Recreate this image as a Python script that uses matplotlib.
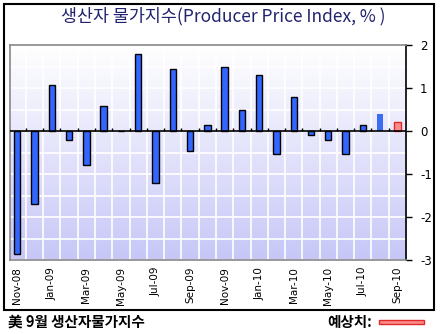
import matplotlib
matplotlib.use("Agg")
import matplotlib.pyplot as plt
import numpy as np
from matplotlib.patches import Rectangle

plt.rcParams['font.family'] = ['Noto Sans CJK KR', 'DejaVu Sans']

months = ["Nov-08", "Dec-08", "Jan-09", "Feb-09", "Mar-09", "Apr-09", "May-09", "Jun-09",
          "Jul-09", "Aug-09", "Sep-09", "Oct-09", "Nov-09", "Dec-09", "Jan-10", "Feb-10",
          "Mar-10", "Apr-10", "May-10", "Jun-10", "Jul-10", "Aug-10", "Sep-10"]
values = [-2.85, -1.7, 1.07, -0.2, -0.78, 0.58, 0.0, 1.8,
          -1.22, 1.45, -0.47, 0.15, 1.48, 0.5, 1.3, -0.53,
          0.8, -0.1, -0.22, -0.53, 0.15, 0.4, 0.2]
# last point is the forecast, the one before is the latest (unbordered) bar
yticks = [2, 1, 0, -1, -2, -3]

W, H = 440, 334
fig = plt.figure(figsize=(W / 100, H / 100), dpi=100)
fig.patch.set_facecolor("white")

ax = fig.add_axes([9.5 / W, 1 - 260 / H, (406 - 9.5) / W, (260 - 45) / H])
n = len(values)
x = np.arange(n)
ax.set_xlim(-0.45, n - 0.5)
ax.set_ylim(-3, 2)

# gradient background
grad = np.linspace(0, 1, 256).reshape(-1, 1)
top = np.array([1.0, 1.0, 1.0])
bot = np.array([0.78, 0.78, 0.97])
img = top[None, None, :] * (1 - grad[:, :, None]) + bot[None, None, :] * grad[:, :, None]
ax.imshow(img, extent=[0, 1, 0, 1], transform=ax.transAxes, aspect='auto', zorder=0)

# grid
for yv in np.arange(-3, 2.01, 0.5):
    ax.axhline(yv, color="white", lw=1.2, zorder=1)
for xv in np.arange(0.5, n - 1, 1):
    ax.axvline(xv, color="white", lw=1.2, zorder=1)

colors = ["#3366ff"] * n
edges = ["black"] * n
colors[-2] = "#3b6cf6"
edges[-2] = "none"
colors[-1] = "#ff8c8c"
edges[-1] = "#e02828"
ax.bar(x, values, width=0.37, color=colors, edgecolor=edges, linewidth=1.0, zorder=3)

ax.axhline(0, color="black", lw=1.2, zorder=4)
ax.vlines(np.arange(0.5, n - 1, 1), 0, 0.06, color="black", lw=1.0, zorder=4)

ax.yaxis.tick_right()
ax.set_yticks(yticks)
ax.set_yticklabels([str(v) for v in yticks], fontsize=8.5, family=['DejaVu Sans'])
ax.tick_params(axis='y', direction='out', length=4, width=1, color='black', pad=6)
ax.set_xticks(x[::2])
ax.set_xticklabels(months[::2], rotation=90, fontsize=7.5, family=['DejaVu Sans'])
ax.tick_params(axis='x', length=0, pad=5)

for s in ["top", "left", "bottom"]:
    ax.spines[s].set_color("#888888")
    ax.spines[s].set_linewidth(1.2)
ax.spines["right"].set_color("black")
ax.spines["right"].set_linewidth(1.2)

# outer frame
fig.patches.append(Rectangle((4 / W, 1 - 310 / H), 430 / W, 306 / H, transform=fig.transFigure,
                             fill=False, edgecolor="black", lw=1.5))

fig.text(223 / W, 1 - 16 / H, "생산자 물가지수(Producer Price Index, % )", ha="center", va="center",
         fontsize=12.5, color="#22226e")

fig.text(8 / W, 1 - 322 / H, "美 9월 생산자물가지수", ha="left", va="center",
         fontsize=10.5, fontweight="bold", color="black")
fig.text(327 / W, 1 - 322 / H, "예상치:", ha="left", va="center",
         fontsize=10.5, fontweight="bold", color="black")
fig.patches.append(Rectangle((379 / W, 1 - 324 / H), 45 / W, 4 / H, transform=fig.transFigure,
                             facecolor="#ff8c8c", edgecolor="#e02828", lw=1.0))

fig.savefig("out.png", dpi=100)
